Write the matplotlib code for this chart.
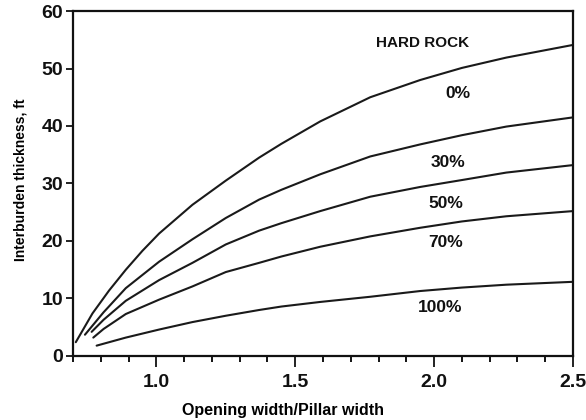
import matplotlib.pyplot as plt
from matplotlib.ticker import MultipleLocator

# Values (opening/pillar ratio vs interburden, ft)
ratio_0 = [0.71, 0.77, 0.83, 0.89, 0.95, 1.01, 1.13, 1.25, 1.37, 1.45, 1.59, 1.77, 1.95, 2.10, 2.26, 2.50]
thick_0 = [2.4, 7.4, 11.4, 15.0, 18.3, 21.3, 26.3, 30.5, 34.5, 36.9, 40.8, 45.0, 48.0, 50.1, 51.9, 54.1]

ratio_30 = [0.743, 0.81, 0.89, 1.01, 1.13, 1.25, 1.37, 1.45, 1.59, 1.77, 1.95, 2.10, 2.26, 2.50]
thick_30 = [3.7, 7.6, 11.8, 16.4, 20.3, 24.0, 27.2, 28.9, 31.6, 34.7, 36.8, 38.4, 39.9, 41.5]

ratio_50 = [0.767, 0.81, 0.89, 1.01, 1.13, 1.25, 1.37, 1.45, 1.59, 1.77, 1.95, 2.10, 2.26, 2.50]
thick_50 = [4.2, 6.3, 9.6, 13.2, 16.2, 19.4, 21.8, 23.1, 25.2, 27.7, 29.4, 30.6, 31.9, 33.2]

ratio_70 = [0.773, 0.81, 0.89, 1.01, 1.13, 1.25, 1.37, 1.45, 1.59, 1.77, 1.95, 2.10, 2.26, 2.50]
thick_70 = [3.2, 4.7, 7.3, 9.8, 12.1, 14.6, 16.2, 17.3, 19.0, 20.8, 22.3, 23.4, 24.3, 25.2]

ratio_100 = [0.785, 0.89, 1.01, 1.13, 1.25, 1.37, 1.45, 1.59, 1.77, 1.95, 2.10, 2.26, 2.50]
thick_100 = [1.8, 3.2, 4.6, 5.9, 7.0, 8.0, 8.6, 9.4, 10.3, 11.3, 11.9, 12.4, 12.9]

curve_labels = ['0%', '30%', '50%', '70%', '100%']
label_x = [2.087, 2.05, 2.044, 2.04, 2.022]
label_y = [45.7, 33.6, 26.6, 19.7, 8.5]

x_ticks = [1.0, 1.5, 2.0, 2.5]
x_tick_labels = ['1.0', '1.5', '2.0', '2.5']
y_ticks = [0, 10, 20, 30, 40, 50, 60]

bold_font = ['Liberation Sans', 'DejaVu Sans']

fig = plt.figure(figsize=(5.86, 4.2), dpi=100)
ax = fig.add_axes([0.1246, 0.1524, 0.8532, 0.8214])

# Draw each curve
for xs, ys in [(ratio_0, thick_0), (ratio_30, thick_30), (ratio_50, thick_50),
               (ratio_70, thick_70), (ratio_100, thick_100)]:
    ax.plot(xs, ys, color='#1a1a1a', linewidth=1.5, solid_capstyle='round',
            solid_joinstyle='round')

# Curve labels
for txt, lx, ly in zip(curve_labels, label_x, label_y):
    ax.text(lx, ly, txt, ha='center', va='center', fontsize=12.5,
            fontweight='bold', family=bold_font, color='#111111')
ax.text(1.958, 54.4, 'HARD ROCK', ha='center', va='center', fontsize=11,
        fontweight='bold', family=bold_font, color='#111111')

ax.set_xlim(0.7, 2.5)
ax.set_ylim(0, 60)
ax.set_xticks(x_ticks)
ax.set_xticklabels(x_tick_labels)
ax.xaxis.set_minor_locator(MultipleLocator(0.1))
ax.set_yticks(y_ticks)

ax.tick_params(axis='both', which='major', direction='out', width=1.3,
               labelsize=14, colors='#111111')
ax.tick_params(axis='x', which='major', length=8, pad=5)
ax.tick_params(axis='x', which='minor', length=4, width=1.3)
ax.tick_params(axis='y', which='major', length=5, pad=2)
for lab in ax.get_xticklabels() + ax.get_yticklabels():
    lab.set_fontweight('bold')
    lab.set_family(bold_font)

for side in ['left', 'right', 'top', 'bottom']:
    ax.spines[side].set_linewidth(1.6)
    ax.spines[side].set_color('#111111')

ax.set_xlabel('Opening width/Pillar width', fontsize=11.5, fontweight='bold',
              family=bold_font)
ax.xaxis.set_label_coords(0.42, -0.135)
ax.set_ylabel('Interburden thickness, ft', fontsize=10, fontweight='bold',
              family=bold_font)
ax.yaxis.set_label_coords(-0.091, 0.51)

plt.savefig('out.png', dpi=100)
